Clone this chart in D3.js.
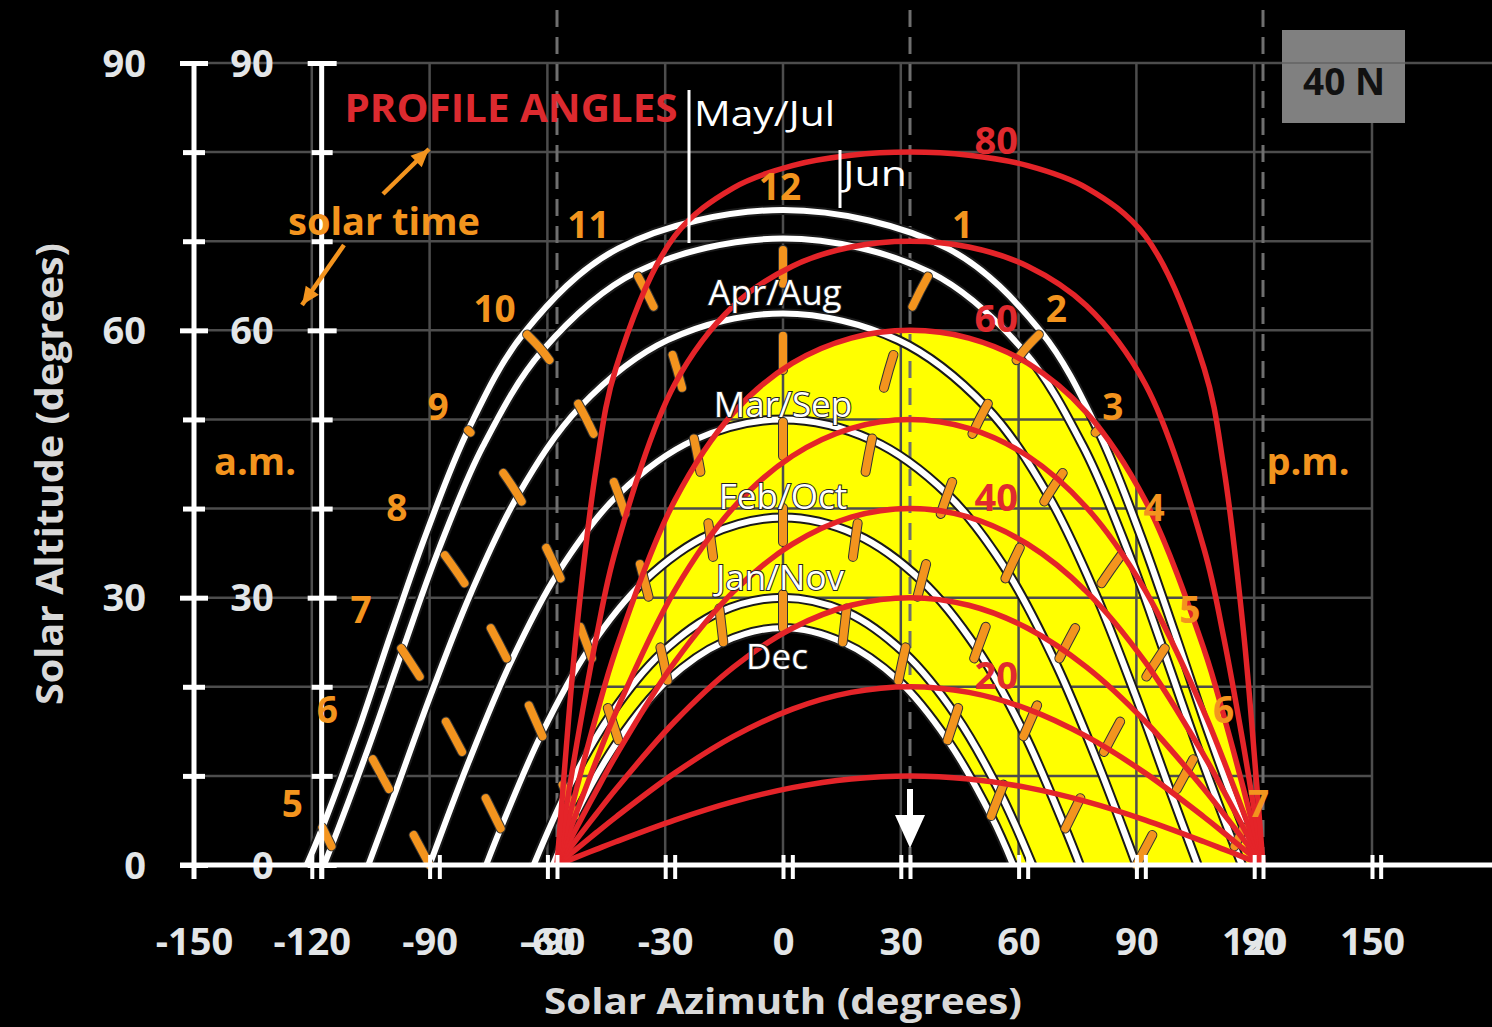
<!DOCTYPE html>
<html><head><meta charset="utf-8">
<script src="https://cdn.jsdelivr.net/npm/d3@7"></script>
<style>html,body{margin:0;padding:0;background:#000;overflow:hidden}svg{display:block}</style>
</head><body><svg id="c" width="1492" height="1027"></svg>
<script>
// ---------------- DATA ----------------
const sunTicks = [-150,-120,-90,-60,-30,0,30,60,90,120,150];
const overlayTicks = [-150,-120,-90,-60,-30,0,30,60,90,120,150,180];
const overlayLabelTicks = [-90,90];
const overlayDashed = [-90,0,90];
const altTicks = [0,10,20,30,40,50,60,70,80,90];
const altLabelTicks = [0,30,60,90];

const hours = [5,6,7,8,9,10,11,12,13,14,15,16,17,18,19];
const hourLabels = ["5","6","7","8","9","10","11","12","1","2","3","4","5","6","7"];
const dateNames = ["Jun","May/Jul","Apr/Aug","Mar/Sep","Feb/Oct","Jan/Nov","Dec"];
const riseAz = [121.3,116.9,105.6,90,75.6,63.5,58.6];

const azJun = [-117.3,-108.4,-99.8,-90.7,-80.2,-65.8,-41.9,0,41.9,65.8,80.2,90.7,99.8,108.4,117.3];
const altJun = [4.2,14.8,26.0,37.4,48.8,59.8,69.2,73.5,69.2,59.8,48.8,37.4,26.0,14.8,4.2];
const azMayJul = [-115.0,-105.8,-96.9,-87.5,-76.4,-61.3,-37.5,0,37.5,61.3,76.4,87.5,96.9,105.8,115.0];
const altMayJul = [2.1,12.9,24.1,35.6,47.0,57.7,66.5,70.3,66.5,57.7,47.0,35.6,24.1,12.9,2.1];
const azAprAug = [null,-99.2,-89.7,-79.5,-67.5,-51.7,-29.4,0,29.4,51.7,67.5,79.5,89.7,99.2,null];
const altAprAug = [null,7.6,19.1,30.5,41.5,51.4,58.9,61.9,58.9,51.4,41.5,30.5,19.1,7.6,null];
const azMarSep = [null,-90,-80.2,-69.6,-57.3,-41.9,-22.6,0,22.6,41.9,57.3,69.6,80.2,90,null];
const altMarSep = [null,0,11.4,22.5,32.8,41.6,47.7,50.0,47.7,41.6,32.8,22.5,11.4,0,null];
const azFebOct = [null,null,-71.9,-61.5,-49.5,-35.3,-18.6,0,18.6,35.3,49.5,61.5,71.9,null,null];
const altFebOct = [null,null,4.1,14.7,24.2,31.9,37.1,39.0,37.1,31.9,24.2,14.7,4.1,null,null];
const azJanNov = [null,null,null,-55.3,-44.0,-30.9,-16.1,0,16.1,30.9,44.0,55.3,null,null,null];
const altJanNov = [null,null,null,8.1,16.8,23.8,28.4,30.0,28.4,23.8,16.8,8.1,null,null,null];
const azDec = [null,null,null,-53.0,-41.9,-29.4,-15.2,0,15.2,29.4,41.9,53.0,null,null,null];
const altDec = [null,null,null,5.5,14.0,20.7,25.0,26.6,25.0,20.7,14.0,5.5,null,null,null];

const profileAngles = [10,20,30,40,50,60,70,80];
const profileLabelAngles = [80,60,40,20];
const profileGamma = [-90,-88,-85,-80,-75,-60,-45,-30,-15,0,15,30,45,60,75,80,85,88,90];
const prof10 = [0,0.35,0.88,1.75,2.61,5.04,7.11,8.68,9.66,10,9.66,8.68,7.11,5.04,2.61,1.75,0.88,0.35,0];
const prof20 = [0,0.73,1.82,3.62,5.38,10.31,14.43,17.5,19.37,20,19.37,17.5,14.43,10.31,5.38,3.62,1.82,0.73,0];
const prof30 = [0,1.15,2.88,5.72,8.5,16.1,22.21,26.57,29.15,30,29.15,26.57,22.21,16.1,8.5,5.72,2.88,1.15,0];
const prof40 = [0,1.68,4.18,8.29,12.25,22.76,30.68,36.0,39.03,40,39.03,36.0,30.68,22.76,12.25,8.29,4.18,1.68,0];
const prof50 = [0,2.38,5.93,11.69,17.14,30.79,40.12,45.9,49.0,50,49.0,45.9,40.12,30.79,17.14,11.69,5.93,2.38,0];
const prof60 = [0,3.46,8.59,16.74,24.15,40.89,50.77,56.31,59.13,60,59.13,56.31,50.77,40.89,24.15,16.74,8.59,3.46,0];
const prof70 = [0,5.48,13.47,25.5,35.42,53.95,62.76,67.2,69.35,70,69.35,67.2,62.76,53.95,35.42,25.5,13.47,5.48,0];
const prof80 = [0,11.2,26.31,44.56,55.73,70.57,76.0,78.49,79.65,80,79.65,78.49,76.0,70.57,55.73,44.56,26.31,11.2,0];

// ---------------- SETUP ----------------
const W = 1492, H = 1027;
const FONT = "'Open Sans', 'DejaVu Sans', sans-serif";
const C = {bg:"#000", grid:"#4d4d4d", dash:"#6f6f6f", white:"#ffffff", red:"#e42429",
           orange:"#f3941e", yellow:"#ffff00", label:"#e3e6e8", title:"#d9d9d9"};

const azArr = [azJun,azMayJul,azAprAug,azMarSep,azFebOct,azJanNov,azDec];
const altArr = [altJun,altMayJul,altAprAug,altMarSep,altFebOct,altJanNov,altDec];
const profArr = [prof10,prof20,prof30,prof40,prof50,prof60,prof70,prof80];

const x = d3.scaleLinear().domain([-150,150]).range([194,1372]);   // sun-path azimuth
const xo = d3.scaleLinear().domain([-90,90]).range([557,1263]);    // profile overlay
const y = d3.scaleLinear().domain([0,90]).range([865,63]);

const svg = d3.select("#c");
svg.append("rect").attr("width",W).attr("height",H).attr("fill",C.bg);

const curve = d3.curveCatmullRom.alpha(0.5);
const lineSun = d3.line().x(d=>x(d[0])).y(d=>y(d[1])).curve(curve);
const lineOv = d3.line().x(d=>xo(d[0])).y(d=>y(d[1])).curve(curve);

function pathPts(i){
  const pts = [[-riseAz[i],0]];
  hours.forEach((h,k)=>{ const a = altArr[i][k]; if (a!=null && a>0) pts.push([azArr[i][k], a]); });
  pts.push([riseAz[i],0]);
  return pts;
}
const profPts = j => profileGamma.map((g,k)=>[g, profArr[j][k]]);

// ---------------- YELLOW REGION ----------------
const top60 = profPts(profileAngles.indexOf(60));
const decRev = pathPts(6).slice().reverse();
svg.append("path")
  .attr("d", lineOv(top60) + lineSun(decRev).replace(/^M/,"L") + "Z")
  .attr("fill", C.yellow);

// ---------------- GRID ----------------
const grid = svg.append("g");
altTicks.filter(d=>d>0).forEach(a=>{
  grid.append("line").attr("x1",x(-150)).attr("x2", a===90 ? W : x(150))
    .attr("y1",y(a)).attr("y2",y(a)).attr("stroke",C.grid).attr("stroke-width",2.5);
});
sunTicks.filter(d=>d>-150).forEach(v=>{
  grid.append("line").attr("x1",x(v)).attr("x2",x(v)).attr("y1",y(90)).attr("y2",y(0))
    .attr("stroke",C.grid).attr("stroke-width",2.5);
});
overlayDashed.forEach(v=>{
  grid.append("line").attr("x1",xo(v)).attr("x2",xo(v)).attr("y1",10).attr("y2",y(0))
    .attr("stroke",C.dash).attr("stroke-width",3).attr("stroke-dasharray","17,10");
});

// ---------------- SUN PATHS ----------------
const sunG = svg.append("g");
dateNames.forEach((n,i)=>{
  const d = lineSun(pathPts(i));
  sunG.append("path").attr("d",d).attr("fill","none").attr("stroke","#1a1a1a").attr("stroke-width",10);
  sunG.append("path").attr("d",d).attr("fill","none").attr("stroke",C.white).attr("stroke-width",6);
});

// ---------------- HOUR LINES ----------------
const hourG = svg.append("g");
hours.forEach((h,k)=>{
  const pts = [];
  for (let i=dateNames.length-1;i>=0;i--){
    const a = altArr[i][k];
    if (a!=null) pts.push([azArr[i][k], a]);
  }
  if (pts.length<2) return;
  const d = lineSun(pts);
  hourG.append("path").attr("d",d).attr("fill","none").attr("stroke","#333")
    .attr("stroke-width",10).attr("stroke-linecap","round").attr("stroke-dasharray","34,52");
  hourG.append("path").attr("d",d).attr("fill","none").attr("stroke",C.orange)
    .attr("stroke-width",8).attr("stroke-linecap","round").attr("stroke-dasharray","34,52");
});

// ---------------- PROFILE ANGLE CURVES ----------------
const redG = svg.append("g");
profileAngles.forEach((p,j)=>{
  redG.append("path").attr("d",lineOv(profPts(j))).attr("fill","none")
    .attr("stroke",C.red).attr("stroke-width",5.5);
});
profileLabelAngles.forEach(p=>{
  svg.append("text").attr("x",xo(22)).attr("y",y(p)-13).text(p)
    .attr("fill","#e02a2f").attr("font-family",FONT).attr("font-weight",700).attr("font-size",38)
    .attr("text-anchor","middle").attr("dominant-baseline","central");
});

// ---------------- AXES ----------------
const fmt = d => String(d);   // plain hyphen minus, as in the reference
function styleAxis(g){
  g.attr("font-family",FONT).attr("font-size",38).attr("font-weight",700);
  g.select(".domain").remove();
  g.selectAll(".tick text").attr("fill",C.label);
}
// outer y axis (sun path)
const gyo = svg.append("g").attr("transform",`translate(${x(-150)},0)`)
  .call(d3.axisLeft(y).tickValues(altTicks).tickSize(0).tickFormat(d=>altLabelTicks.includes(d)?fmt(d):""));
styleAxis(gyo);
gyo.selectAll(".tick line").attr("x1",d=>altLabelTicks.includes(d)?-14:-11).attr("x2",d=>altLabelTicks.includes(d)?14:11)
  .attr("stroke",C.white).attr("stroke-width",5);
gyo.selectAll(".tick text").attr("x",-48).attr("dy","0.35em");
svg.append("line").attr("x1",x(-150)).attr("x2",x(-150)).attr("y1",y(90)-2).attr("y2",y(0)+14)
  .attr("stroke",C.white).attr("stroke-width",5);

// inner y axis (overlay)
const gyi = svg.append("g").attr("transform",`translate(${xo(-150)},0)`)
  .call(d3.axisLeft(y).tickValues(altTicks).tickSize(0).tickFormat(d=>altLabelTicks.includes(d)?fmt(d):""));
styleAxis(gyi);
gyi.selectAll(".tick line").attr("x1",d=>altLabelTicks.includes(d)?-14:-10).attr("x2",d=>altLabelTicks.includes(d)?15:11)
  .attr("stroke",C.white).attr("stroke-width",5);
gyi.selectAll(".tick text").attr("x",-48).attr("dy","0.35em");
svg.append("line").attr("x1",xo(-150)).attr("x2",xo(-150)).attr("y1",y(90)-2).attr("y2",y(0)+14)
  .attr("stroke",C.white).attr("stroke-width",5);

// x axis line
svg.append("line").attr("x1",x(-150)-14).attr("x2",W).attr("y1",y(0)).attr("y2",y(0))
  .attr("stroke",C.white).attr("stroke-width",5);
// sun azimuth axis
const gx = svg.append("g").attr("transform",`translate(0,${y(0)})`)
  .call(d3.axisBottom(x).tickValues(sunTicks).tickSize(0).tickFormat(fmt));
styleAxis(gx);
gx.selectAll(".tick line").attr("y1",-10).attr("y2",14).attr("stroke",C.white).attr("stroke-width",4)
  .filter(d=>d===-150).remove();
gx.selectAll(".tick text").attr("y",77).attr("dy","0.35em");
// overlay axis (its -90 / 90 labels sit on top of the -60 / 120 labels, as in the reference)
const gxo = svg.append("g").attr("transform",`translate(0,${y(0)})`)
  .call(d3.axisBottom(xo).tickValues(overlayTicks).tickSize(0).tickFormat(d=>overlayLabelTicks.includes(d)?fmt(d):""));
styleAxis(gxo);
gxo.selectAll(".tick line").attr("y1",-10).attr("y2",14).attr("stroke",C.white).attr("stroke-width",4);
gxo.selectAll(".tick text").attr("y",77).attr("dy","0.35em");

// axis titles
svg.append("text").attr("x",783).attr("y",1000).text("Solar Azimuth (degrees)")
  .attr("fill",C.title).attr("font-family",FONT).attr("font-weight",700).attr("font-size",36)
  .attr("text-anchor","middle").attr("dominant-baseline","central")
  .attr("textLength",478).attr("lengthAdjust","spacingAndGlyphs");
svg.append("text").attr("transform","translate(48,474) rotate(-90)").text("Solar Altitude (degrees)")
  .attr("fill",C.title).attr("font-family",FONT).attr("font-weight",700).attr("font-size",38)
  .attr("text-anchor","middle").attr("dominant-baseline","central")
  .attr("textLength",462).attr("lengthAdjust","spacingAndGlyphs");

// ---------------- ANNOTATIONS ----------------
function label(txt, px, py, opts){
  const t = svg.append("text").attr("x",px).attr("y",py).text(txt)
    .attr("font-family",FONT).attr("font-weight",opts.w||700).attr("font-size",opts.s||36)
    .attr("fill",opts.c).attr("text-anchor",opts.a||"middle").attr("dominant-baseline","central");
  if (opts.len) t.attr("textLength",opts.len).attr("lengthAdjust","spacingAndGlyphs");
  if (opts.stroke){ t.attr("stroke",opts.stroke).attr("stroke-width",opts.sw||2).attr("paint-order","stroke"); }
  return t;
}

// hour labels near June end of each hour line
hours.forEach((h,k)=>{
  const px = x(azJun[k]), py = y(altJun[k]);
  const dx = azJun[k] < 0 ? -30 : (azJun[k] > 0 ? 15 : -3);
  label(hourLabels[k], px+dx, py-25, {c:C.orange, s:37});
});

// month labels
const noonIdx = hours.indexOf(12);
label("Apr/Aug", x(0)-8, y(altAprAug[noonIdx])-22, {c:C.white, w:400, s:35, stroke:"#222", sw:2});
label("Mar/Sep", x(0), y(altMarSep[noonIdx])-16, {c:C.white, w:400, s:35, stroke:"#222", sw:2});
label("Feb/Oct", x(0), y(altFebOct[noonIdx])-22, {c:C.white, w:400, s:35, stroke:"#222", sw:2});
label("Jan/Nov", x(0)-3, y(altJanNov[noonIdx])-21, {c:C.white, w:400, s:35, stroke:"#222", sw:2});
label("Dec", x(0)-6, y(altDec[noonIdx])+28, {c:C.white, w:400, s:35, stroke:"#222", sw:2});
label("May/Jul", 694, 112, {c:C.white, w:400, s:35, a:"start", len:141});
label("Jun", 843, 172, {c:C.white, w:400, s:35, a:"start", len:64});
svg.append("line").attr("x1",689).attr("x2",689).attr("y1",90).attr("y2",243).attr("stroke",C.white).attr("stroke-width",3);
svg.append("line").attr("x1",840).attr("x2",840).attr("y1",150).attr("y2",208).attr("stroke",C.white).attr("stroke-width",3);

label("PROFILE ANGLES", 511, 106, {c:"#dc2a2f", s:40, len:333});
label("a.m.", 255, 460, {c:C.orange, s:38});
label("p.m.", 1308, 460, {c:C.orange, s:38});
label("solar time", 384, 220, {c:C.orange, s:38, len:192});

// arrows for solar time
function arrow(x1,y1,x2,y2){
  svg.append("line").attr("x1",x1).attr("y1",y1).attr("x2",x2).attr("y2",y2)
    .attr("stroke",C.orange).attr("stroke-width",4.5);
  const ang = Math.atan2(y2-y1,x2-x1), L=18, Wd=8;
  const bx = x2 - L*Math.cos(ang), by = y2 - L*Math.sin(ang);
  const px = -Math.sin(ang)*Wd, py = Math.cos(ang)*Wd;
  svg.append("path").attr("d",`M${x2},${y2}L${bx+px},${by+py}L${bx-px},${by-py}Z`).attr("fill",C.orange);
}
arrow(383,194,429,149);
arrow(344,245,302,305);

// wall-normal arrow
svg.append("line").attr("x1",xo(0)).attr("x2",xo(0)).attr("y1",789).attr("y2",818)
  .attr("stroke",C.white).attr("stroke-width",6);
svg.append("path").attr("d",`M${xo(0)-15},815L${xo(0)+15},815L${xo(0)},848Z`).attr("fill",C.white);

// latitude box
svg.append("rect").attr("x",1282).attr("y",30).attr("width",123).attr("height",93).attr("fill","#808080");
svg.append("line").attr("x1",1282).attr("x2",1405).attr("y1",y(90)).attr("y2",y(90)).attr("stroke","#6a6a6a").attr("stroke-width",2);
label("40 N", 1344, 80, {c:"#111", s:37});
</script></body></html>
